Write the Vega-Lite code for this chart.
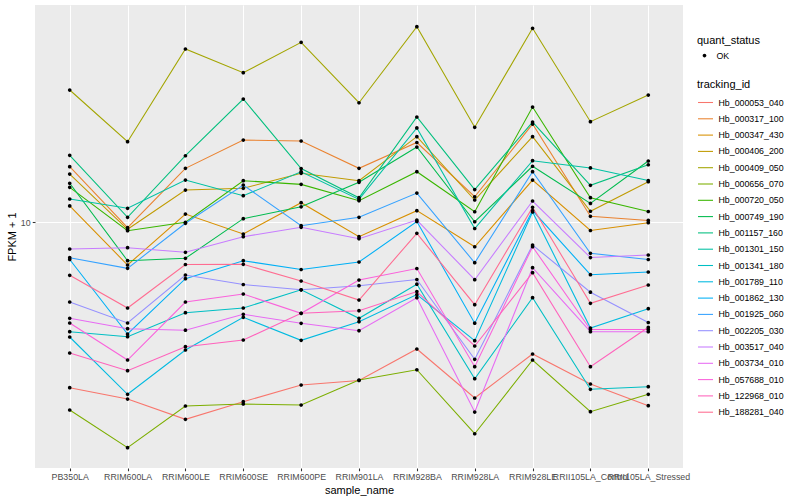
{
"$schema": "https://vega.github.io/schema/vega-lite/v6.json",
"width": 648, "height": 463,
"autosize": {"type": "none"},
"padding": {"left": 35, "top": 5, "right": 117, "bottom": 32},
"background": "white",
"config": {
  "font": "Liberation Sans",
  "view": {"fill": "#EBEBEB", "stroke": null},
  "axis": {"domain": false, "grid": true, "gridColor": "white", "gridWidth": 1.07, "tickColor": "#333333", "tickSize": 2.75, "tickWidth": 1.07, "labelColor": "#4D4D4D", "labelFontSize": 8.8, "labelFont": "Liberation Sans", "titleFont": "Liberation Sans", "titleFontSize": 11, "titleFontWeight": "normal", "titleColor": "black", "labelPadding": 2.2},
  "legend": {"titleFont": "Liberation Sans", "titleFontSize": 11, "titleFontWeight": "normal", "titleColor": "black", "labelFont": "Liberation Sans", "labelFontSize": 8.8, "labelColor": "black", "padding": 0}
},
"data": {"values": [
{"id":"Hb_000053_040","sample":"PB350LA","v":2.804,"q":"OK"},{"id":"Hb_000053_040","sample":"RRIM600LA","v":2.570,"q":"OK"},{"id":"Hb_000053_040","sample":"RRIM600LE","v":2.199,"q":"OK"},{"id":"Hb_000053_040","sample":"RRIM600SE","v":2.518,"q":"OK"},{"id":"Hb_000053_040","sample":"RRIM600PE","v":2.862,"q":"OK"},{"id":"Hb_000053_040","sample":"RRIM901LA","v":2.963,"q":"OK"},{"id":"Hb_000053_040","sample":"RRIM928BA","v":3.773,"q":"OK"},{"id":"Hb_000053_040","sample":"RRIM928LA","v":2.590,"q":"OK"},{"id":"Hb_000053_040","sample":"RRIM928LE","v":3.631,"q":"OK"},{"id":"Hb_000053_040","sample":"RRII105LA_Control","v":2.884,"q":"OK"},{"id":"Hb_000053_040","sample":"RRII105LA_Stressed","v":2.442,"q":"OK"},
{"id":"Hb_000317_100","sample":"PB350LA","v":15.29,"q":"OK"},{"id":"Hb_000317_100","sample":"RRIM600LA","v":9.572,"q":"OK"},{"id":"Hb_000317_100","sample":"RRIM600LE","v":15.10,"q":"OK"},{"id":"Hb_000317_100","sample":"RRIM600SE","v":18.76,"q":"OK"},{"id":"Hb_000317_100","sample":"RRIM600PE","v":18.62,"q":"OK"},{"id":"Hb_000317_100","sample":"RRIM901LA","v":15.10,"q":"OK"},{"id":"Hb_000317_100","sample":"RRIM928BA","v":18.41,"q":"OK"},{"id":"Hb_000317_100","sample":"RRIM928LA","v":12.14,"q":"OK"},{"id":"Hb_000317_100","sample":"RRIM928LE","v":21.21,"q":"OK"},{"id":"Hb_000317_100","sample":"RRII105LA_Control","v":10.45,"q":"OK"},{"id":"Hb_000317_100","sample":"RRII105LA_Stressed","v":10.12,"q":"OK"},
{"id":"Hb_000347_430","sample":"PB350LA","v":11.31,"q":"OK"},{"id":"Hb_000347_430","sample":"RRIM600LA","v":7.189,"q":"OK"},{"id":"Hb_000347_430","sample":"RRIM600LE","v":10.63,"q":"OK"},{"id":"Hb_000347_430","sample":"RRIM600SE","v":9.120,"q":"OK"},{"id":"Hb_000347_430","sample":"RRIM600PE","v":11.60,"q":"OK"},{"id":"Hb_000347_430","sample":"RRIM901LA","v":8.933,"q":"OK"},{"id":"Hb_000347_430","sample":"RRIM928BA","v":10.91,"q":"OK"},{"id":"Hb_000347_430","sample":"RRIM928LA","v":8.271,"q":"OK"},{"id":"Hb_000347_430","sample":"RRIM928LE","v":13.80,"q":"OK"},{"id":"Hb_000347_430","sample":"RRII105LA_Control","v":9.369,"q":"OK"},{"id":"Hb_000347_430","sample":"RRII105LA_Stressed","v":9.946,"q":"OK"},
{"id":"Hb_000406_200","sample":"PB350LA","v":14.45,"q":"OK"},{"id":"Hb_000406_200","sample":"RRIM600LA","v":9.455,"q":"OK"},{"id":"Hb_000406_200","sample":"RRIM600LE","v":12.78,"q":"OK"},{"id":"Hb_000406_200","sample":"RRIM600SE","v":12.95,"q":"OK"},{"id":"Hb_000406_200","sample":"RRIM600PE","v":14.53,"q":"OK"},{"id":"Hb_000406_200","sample":"RRIM901LA","v":13.73,"q":"OK"},{"id":"Hb_000406_200","sample":"RRIM928BA","v":19.25,"q":"OK"},{"id":"Hb_000406_200","sample":"RRIM928LA","v":11.84,"q":"OK"},{"id":"Hb_000406_200","sample":"RRIM928LE","v":19.25,"q":"OK"},{"id":"Hb_000406_200","sample":"RRII105LA_Control","v":10.86,"q":"OK"},{"id":"Hb_000406_200","sample":"RRII105LA_Stressed","v":13.62,"q":"OK"},
{"id":"Hb_000409_050","sample":"PB350LA","v":27.54,"q":"OK"},{"id":"Hb_000409_050","sample":"RRIM600LA","v":18.52,"q":"OK"},{"id":"Hb_000409_050","sample":"RRIM600LE","v":37.73,"q":"OK"},{"id":"Hb_000409_050","sample":"RRIM600SE","v":31.45,"q":"OK"},{"id":"Hb_000409_050","sample":"RRIM600PE","v":39.72,"q":"OK"},{"id":"Hb_000409_050","sample":"RRIM901LA","v":24.98,"q":"OK"},{"id":"Hb_000409_050","sample":"RRIM928BA","v":44.77,"q":"OK"},{"id":"Hb_000409_050","sample":"RRIM928LA","v":20.69,"q":"OK"},{"id":"Hb_000409_050","sample":"RRIM928LE","v":44.22,"q":"OK"},{"id":"Hb_000409_050","sample":"RRII105LA_Control","v":21.60,"q":"OK"},{"id":"Hb_000409_050","sample":"RRII105LA_Stressed","v":26.50,"q":"OK"},
{"id":"Hb_000656_070","sample":"PB350LA","v":2.362,"q":"OK"},{"id":"Hb_000656_070","sample":"RRIM600LA","v":1.769,"q":"OK"},{"id":"Hb_000656_070","sample":"RRIM600LE","v":2.436,"q":"OK"},{"id":"Hb_000656_070","sample":"RRIM600SE","v":2.474,"q":"OK"},{"id":"Hb_000656_070","sample":"RRIM600PE","v":2.455,"q":"OK"},{"id":"Hb_000656_070","sample":"RRIM901LA","v":2.974,"q":"OK"},{"id":"Hb_000656_070","sample":"RRIM928BA","v":3.218,"q":"OK"},{"id":"Hb_000656_070","sample":"RRIM928LA","v":1.969,"q":"OK"},{"id":"Hb_000656_070","sample":"RRIM928LE","v":3.467,"q":"OK"},{"id":"Hb_000656_070","sample":"RRII105LA_Control","v":2.332,"q":"OK"},{"id":"Hb_000656_070","sample":"RRII105LA_Stressed","v":2.665,"q":"OK"},
{"id":"Hb_000720_050","sample":"PB350LA","v":13.05,"q":"OK"},{"id":"Hb_000720_050","sample":"RRIM600LA","v":9.354,"q":"OK"},{"id":"Hb_000720_050","sample":"RRIM600LE","v":9.977,"q":"OK"},{"id":"Hb_000720_050","sample":"RRIM600SE","v":13.73,"q":"OK"},{"id":"Hb_000720_050","sample":"RRIM600PE","v":13.35,"q":"OK"},{"id":"Hb_000720_050","sample":"RRIM901LA","v":11.78,"q":"OK"},{"id":"Hb_000720_050","sample":"RRIM928BA","v":14.71,"q":"OK"},{"id":"Hb_000720_050","sample":"RRIM928LA","v":10.82,"q":"OK"},{"id":"Hb_000720_050","sample":"RRIM928LE","v":24.17,"q":"OK"},{"id":"Hb_000720_050","sample":"RRII105LA_Control","v":12.05,"q":"OK"},{"id":"Hb_000720_050","sample":"RRII105LA_Stressed","v":10.84,"q":"OK"},
{"id":"Hb_000749_190","sample":"PB350LA","v":13.46,"q":"OK"},{"id":"Hb_000749_190","sample":"RRIM600LA","v":7.430,"q":"OK"},{"id":"Hb_000749_190","sample":"RRIM600LE","v":7.568,"q":"OK"},{"id":"Hb_000749_190","sample":"RRIM600SE","v":10.26,"q":"OK"},{"id":"Hb_000749_190","sample":"RRIM600PE","v":11.24,"q":"OK"},{"id":"Hb_000749_190","sample":"RRIM901LA","v":13.56,"q":"OK"},{"id":"Hb_000749_190","sample":"RRIM928BA","v":17.78,"q":"OK"},{"id":"Hb_000749_190","sample":"RRIM928LA","v":10.02,"q":"OK"},{"id":"Hb_000749_190","sample":"RRIM928LE","v":15.34,"q":"OK"},{"id":"Hb_000749_190","sample":"RRII105LA_Control","v":11.53,"q":"OK"},{"id":"Hb_000749_190","sample":"RRII105LA_Stressed","v":15.97,"q":"OK"},
{"id":"Hb_001157_160","sample":"PB350LA","v":16.69,"q":"OK"},{"id":"Hb_001157_160","sample":"RRIM600LA","v":10.37,"q":"OK"},{"id":"Hb_001157_160","sample":"RRIM600LE","v":16.63,"q":"OK"},{"id":"Hb_001157_160","sample":"RRIM600SE","v":25.70,"q":"OK"},{"id":"Hb_001157_160","sample":"RRIM600PE","v":15.08,"q":"OK"},{"id":"Hb_001157_160","sample":"RRIM901LA","v":12.05,"q":"OK"},{"id":"Hb_001157_160","sample":"RRIM928BA","v":22.39,"q":"OK"},{"id":"Hb_001157_160","sample":"RRIM928LA","v":12.83,"q":"OK"},{"id":"Hb_001157_160","sample":"RRIM928LE","v":21.54,"q":"OK"},{"id":"Hb_001157_160","sample":"RRII105LA_Control","v":13.25,"q":"OK"},{"id":"Hb_001157_160","sample":"RRII105LA_Stressed","v":15.52,"q":"OK"},
{"id":"Hb_001301_150","sample":"PB350LA","v":11.93,"q":"OK"},{"id":"Hb_001301_150","sample":"RRIM600LA","v":11.11,"q":"OK"},{"id":"Hb_001301_150","sample":"RRIM600LE","v":13.80,"q":"OK"},{"id":"Hb_001301_150","sample":"RRIM600SE","v":12.24,"q":"OK"},{"id":"Hb_001301_150","sample":"RRIM600PE","v":14.71,"q":"OK"},{"id":"Hb_001301_150","sample":"RRIM901LA","v":11.89,"q":"OK"},{"id":"Hb_001301_150","sample":"RRIM928BA","v":20.58,"q":"OK"},{"id":"Hb_001301_150","sample":"RRIM928LA","v":9.513,"q":"OK"},{"id":"Hb_001301_150","sample":"RRIM928LE","v":16.01,"q":"OK"},{"id":"Hb_001301_150","sample":"RRII105LA_Control","v":15.14,"q":"OK"},{"id":"Hb_001301_150","sample":"RRII105LA_Stressed","v":13.75,"q":"OK"},
{"id":"Hb_001341_180","sample":"PB350LA","v":4.308,"q":"OK"},{"id":"Hb_001341_180","sample":"RRIM600LA","v":4.146,"q":"OK"},{"id":"Hb_001341_180","sample":"RRIM600LE","v":4.985,"q":"OK"},{"id":"Hb_001341_180","sample":"RRIM600SE","v":5.168,"q":"OK"},{"id":"Hb_001341_180","sample":"RRIM600PE","v":5.943,"q":"OK"},{"id":"Hb_001341_180","sample":"RRIM901LA","v":4.775,"q":"OK"},{"id":"Hb_001341_180","sample":"RRIM928BA","v":6.204,"q":"OK"},{"id":"Hb_001341_180","sample":"RRIM928LA","v":3.004,"q":"OK"},{"id":"Hb_001341_180","sample":"RRIM928LE","v":5.593,"q":"OK"},{"id":"Hb_001341_180","sample":"RRII105LA_Control","v":2.769,"q":"OK"},{"id":"Hb_001341_180","sample":"RRII105LA_Stressed","v":2.825,"q":"OK"},
{"id":"Hb_001789_110","sample":"PB350LA","v":4.137,"q":"OK"},{"id":"Hb_001789_110","sample":"RRIM600LA","v":2.665,"q":"OK"},{"id":"Hb_001789_110","sample":"RRIM600LE","v":3.744,"q":"OK"},{"id":"Hb_001789_110","sample":"RRIM600SE","v":4.812,"q":"OK"},{"id":"Hb_001789_110","sample":"RRIM600PE","v":4.033,"q":"OK"},{"id":"Hb_001789_110","sample":"RRIM901LA","v":4.652,"q":"OK"},{"id":"Hb_001789_110","sample":"RRIM928BA","v":5.732,"q":"OK"},{"id":"Hb_001789_110","sample":"RRIM928LA","v":4.021,"q":"OK"},{"id":"Hb_001789_110","sample":"RRIM928LE","v":10.80,"q":"OK"},{"id":"Hb_001789_110","sample":"RRII105LA_Control","v":4.433,"q":"OK"},{"id":"Hb_001789_110","sample":"RRII105LA_Stressed","v":5.140,"q":"OK"},
{"id":"Hb_001862_130","sample":"PB350LA","v":7.499,"q":"OK"},{"id":"Hb_001862_130","sample":"RRIM600LA","v":4.233,"q":"OK"},{"id":"Hb_001862_130","sample":"RRIM600LE","v":6.471,"q":"OK"},{"id":"Hb_001862_130","sample":"RRIM600SE","v":7.430,"q":"OK"},{"id":"Hb_001862_130","sample":"RRIM600PE","v":6.945,"q":"OK"},{"id":"Hb_001862_130","sample":"RRIM901LA","v":7.356,"q":"OK"},{"id":"Hb_001862_130","sample":"RRIM928BA","v":10.04,"q":"OK"},{"id":"Hb_001862_130","sample":"RRIM928LA","v":4.599,"q":"OK"},{"id":"Hb_001862_130","sample":"RRIM928LE","v":10.92,"q":"OK"},{"id":"Hb_001862_130","sample":"RRII105LA_Control","v":6.673,"q":"OK"},{"id":"Hb_001862_130","sample":"RRII105LA_Stressed","v":6.813,"q":"OK"},
{"id":"Hb_001925_060","sample":"PB350LA","v":7.603,"q":"OK"},{"id":"Hb_001925_060","sample":"RRIM600LA","v":7.009,"q":"OK"},{"id":"Hb_001925_060","sample":"RRIM600LE","v":9.901,"q":"OK"},{"id":"Hb_001925_060","sample":"RRIM600SE","v":13.28,"q":"OK"},{"id":"Hb_001925_060","sample":"RRIM600PE","v":9.720,"q":"OK"},{"id":"Hb_001925_060","sample":"RRIM901LA","v":10.37,"q":"OK"},{"id":"Hb_001925_060","sample":"RRIM928BA","v":12.49,"q":"OK"},{"id":"Hb_001925_060","sample":"RRIM928LA","v":7.316,"q":"OK"},{"id":"Hb_001925_060","sample":"RRIM928LE","v":14.71,"q":"OK"},{"id":"Hb_001925_060","sample":"RRII105LA_Control","v":7.864,"q":"OK"},{"id":"Hb_001925_060","sample":"RRII105LA_Stressed","v":7.499,"q":"OK"},
{"id":"Hb_002205_030","sample":"PB350LA","v":5.412,"q":"OK"},{"id":"Hb_002205_030","sample":"RRIM600LA","v":4.606,"q":"OK"},{"id":"Hb_002205_030","sample":"RRIM600LE","v":6.658,"q":"OK"},{"id":"Hb_002205_030","sample":"RRIM600SE","v":6.189,"q":"OK"},{"id":"Hb_002205_030","sample":"RRIM600PE","v":5.943,"q":"OK"},{"id":"Hb_002205_030","sample":"RRIM901LA","v":6.133,"q":"OK"},{"id":"Hb_002205_030","sample":"RRIM928BA","v":6.432,"q":"OK"},{"id":"Hb_002205_030","sample":"RRIM928LA","v":3.486,"q":"OK"},{"id":"Hb_002205_030","sample":"RRIM928LE","v":8.381,"q":"OK"},{"id":"Hb_002205_030","sample":"RRII105LA_Control","v":5.834,"q":"OK"},{"id":"Hb_002205_030","sample":"RRII105LA_Stressed","v":4.624,"q":"OK"},
{"id":"Hb_003517_040","sample":"PB350LA","v":8.128,"q":"OK"},{"id":"Hb_003517_040","sample":"RRIM600LA","v":8.209,"q":"OK"},{"id":"Hb_003517_040","sample":"RRIM600LE","v":7.925,"q":"OK"},{"id":"Hb_003517_040","sample":"RRIM600SE","v":8.933,"q":"OK"},{"id":"Hb_003517_040","sample":"RRIM600PE","v":9.601,"q":"OK"},{"id":"Hb_003517_040","sample":"RRIM901LA","v":8.797,"q":"OK"},{"id":"Hb_003517_040","sample":"RRIM928BA","v":10.15,"q":"OK"},{"id":"Hb_003517_040","sample":"RRIM928LA","v":6.422,"q":"OK"},{"id":"Hb_003517_040","sample":"RRIM928LE","v":11.75,"q":"OK"},{"id":"Hb_003517_040","sample":"RRII105LA_Control","v":7.614,"q":"OK"},{"id":"Hb_003517_040","sample":"RRII105LA_Stressed","v":7.762,"q":"OK"},
{"id":"Hb_003734_010","sample":"PB350LA","v":4.775,"q":"OK"},{"id":"Hb_003734_010","sample":"RRIM600LA","v":4.410,"q":"OK"},{"id":"Hb_003734_010","sample":"RRIM600LE","v":4.359,"q":"OK"},{"id":"Hb_003734_010","sample":"RRIM600SE","v":4.924,"q":"OK"},{"id":"Hb_003734_010","sample":"RRIM600PE","v":4.595,"q":"OK"},{"id":"Hb_003734_010","sample":"RRIM901LA","v":4.342,"q":"OK"},{"id":"Hb_003734_010","sample":"RRIM928BA","v":5.593,"q":"OK"},{"id":"Hb_003734_010","sample":"RRIM928LA","v":2.326,"q":"OK"},{"id":"Hb_003734_010","sample":"RRIM928LE","v":7.041,"q":"OK"},{"id":"Hb_003734_010","sample":"RRII105LA_Control","v":4.308,"q":"OK"},{"id":"Hb_003734_010","sample":"RRII105LA_Stressed","v":4.308,"q":"OK"},
{"id":"Hb_057688_010","sample":"PB350LA","v":4.606,"q":"OK"},{"id":"Hb_057688_010","sample":"RRIM600LA","v":3.467,"q":"OK"},{"id":"Hb_057688_010","sample":"RRIM600LE","v":5.412,"q":"OK"},{"id":"Hb_057688_010","sample":"RRIM600SE","v":5.754,"q":"OK"},{"id":"Hb_057688_010","sample":"RRIM600PE","v":4.962,"q":"OK"},{"id":"Hb_057688_010","sample":"RRIM901LA","v":6.408,"q":"OK"},{"id":"Hb_057688_010","sample":"RRIM928BA","v":6.998,"q":"OK"},{"id":"Hb_057688_010","sample":"RRIM928LA","v":3.294,"q":"OK"},{"id":"Hb_057688_010","sample":"RRIM928LE","v":8.271,"q":"OK"},{"id":"Hb_057688_010","sample":"RRII105LA_Control","v":4.383,"q":"OK"},{"id":"Hb_057688_010","sample":"RRII105LA_Stressed","v":4.383,"q":"OK"},
{"id":"Hb_122968_010","sample":"PB350LA","v":3.659,"q":"OK"},{"id":"Hb_122968_010","sample":"RRIM600LA","v":3.194,"q":"OK"},{"id":"Hb_122968_010","sample":"RRIM600LE","v":3.840,"q":"OK"},{"id":"Hb_122968_010","sample":"RRIM600SE","v":4.043,"q":"OK"},{"id":"Hb_122968_010","sample":"RRIM600PE","v":4.962,"q":"OK"},{"id":"Hb_122968_010","sample":"RRIM901LA","v":5.062,"q":"OK"},{"id":"Hb_122968_010","sample":"RRIM928BA","v":5.866,"q":"OK"},{"id":"Hb_122968_010","sample":"RRIM928LA","v":3.861,"q":"OK"},{"id":"Hb_122968_010","sample":"RRIM928LE","v":6.776,"q":"OK"},{"id":"Hb_122968_010","sample":"RRII105LA_Control","v":3.294,"q":"OK"},{"id":"Hb_122968_010","sample":"RRII105LA_Stressed","v":4.457,"q":"OK"},
{"id":"Hb_188281_040","sample":"PB350LA","v":6.643,"q":"OK"},{"id":"Hb_188281_040","sample":"RRIM600LA","v":5.168,"q":"OK"},{"id":"Hb_188281_040","sample":"RRIM600LE","v":7.216,"q":"OK"},{"id":"Hb_188281_040","sample":"RRIM600SE","v":7.228,"q":"OK"},{"id":"Hb_188281_040","sample":"RRIM600PE","v":6.358,"q":"OK"},{"id":"Hb_188281_040","sample":"RRIM901LA","v":5.495,"q":"OK"},{"id":"Hb_188281_040","sample":"RRIM928BA","v":9.170,"q":"OK"},{"id":"Hb_188281_040","sample":"RRIM928LA","v":5.301,"q":"OK"},{"id":"Hb_188281_040","sample":"RRIM928LE","v":11.19,"q":"OK"},{"id":"Hb_188281_040","sample":"RRII105LA_Control","v":5.358,"q":"OK"},{"id":"Hb_188281_040","sample":"RRII105LA_Stressed","v":6.166,"q":"OK"}
]},
"encoding": {
  "x": {"field": "sample", "type": "nominal",
        "scale": {"type": "point", "padding": 0.6, "domain": ["PB350LA","RRIM600LA","RRIM600LE","RRIM600SE","RRIM600PE","RRIM901LA","RRIM928BA","RRIM928LA","RRIM928LE","RRII105LA_Control","RRII105LA_Stressed"]},
        "axis": {"title": "sample_name", "labelAngle": 0, "labelOverlap": false, "labelFlush": false, "labelBound": false, "titlePadding": 3}},
  "y": {"field": "v", "type": "quantitative",
        "scale": {"type": "log", "domain": [1.5136, 52.89], "nice": false, "zero": false},
        "axis": {"title": "FPKM + 1", "values": [10], "format": "d", "titlePadding": 3}}
},
"layer": [
  {"mark": {"type": "line", "strokeWidth": 1.07},
   "encoding": {"color": {"field": "id", "type": "nominal",
      "scale": {"domain": ["Hb_000053_040","Hb_000317_100","Hb_000347_430","Hb_000406_200","Hb_000409_050","Hb_000656_070","Hb_000720_050","Hb_000749_190","Hb_001157_160","Hb_001301_150","Hb_001341_180","Hb_001789_110","Hb_001862_130","Hb_001925_060","Hb_002205_030","Hb_003517_040","Hb_003734_010","Hb_057688_010","Hb_122968_010","Hb_188281_040"],
                "range": ["#F8766D","#EA8331","#D89000","#C09B00","#A3A500","#7CAE00","#39B600","#00BB4E","#00BF7D","#00C1A3","#00BFC4","#00BAE0","#00B0F6","#35A2FF","#9590FF","#C77CFF","#E76BF3","#FA62DB","#FF62BC","#FF6C91"]},
      "legend": {"title": "tracking_id", "orient": "none", "legendX": 662, "legendY": 74, "symbolType": "stroke", "symbolSize": 225, "symbolStrokeWidth": 1.07, "rowPadding": 2.3, "labelOffset": 4.5, "titlePadding": 4}}}},
  {"mark": {"type": "point", "filled": true, "size": 220, "opacity": 1, "color": "black", "strokeWidth": 0},
   "encoding": {"shape": {"field": "q", "type": "nominal", "scale": {"range": ["M-0.25,0A0.25,0.25,0,1,0,0.25,0A0.25,0.25,0,1,0,-0.25,0Z"]},
      "legend": {"title": "quant_status", "orient": "none", "legendX": 662, "legendY": 30, "symbolSize": 225, "labelOffset": 4.5, "titlePadding": 2, "symbolFillColor": "black", "symbolStrokeColor": "black", "symbolStrokeWidth": 0}}}}
]
}
